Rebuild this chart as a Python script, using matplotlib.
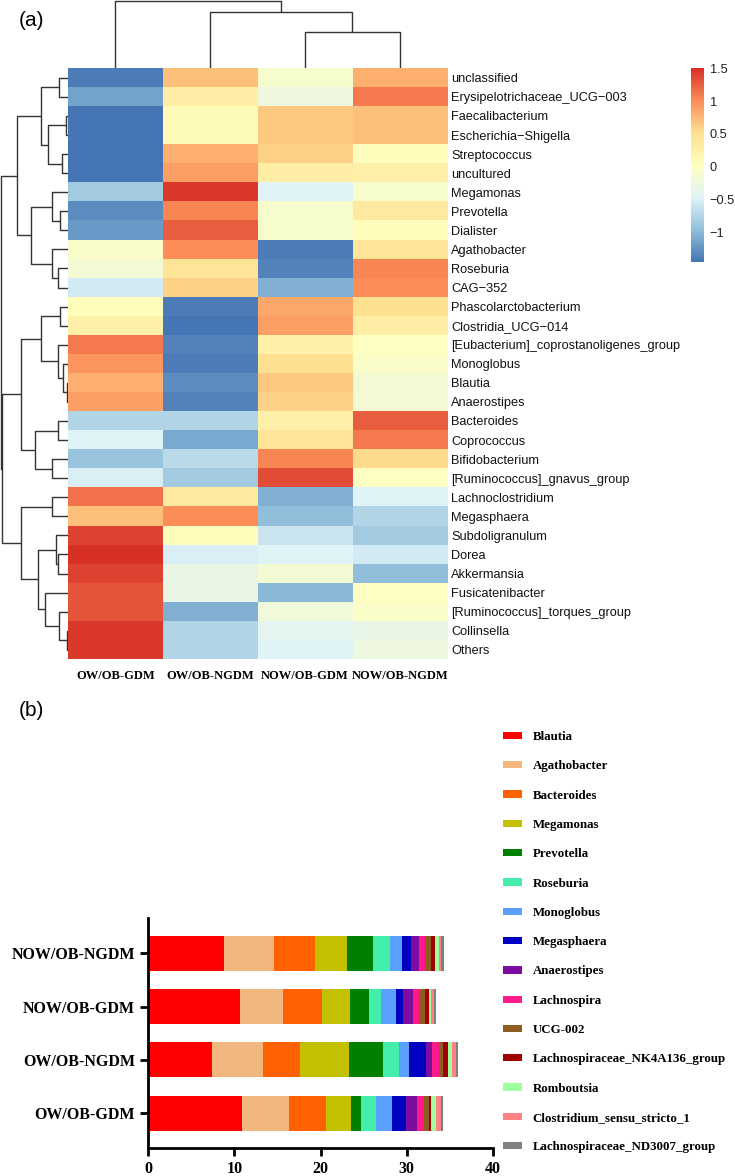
import numpy as np
import matplotlib
matplotlib.use('Agg')
import matplotlib.pyplot as plt
from matplotlib.colors import LinearSegmentedColormap
from matplotlib.patches import Patch

# ---------------- data: heatmap (row z-scores) ----------------
groups = ["OW/OB-GDM", "OW/OB-NGDM", "NOW/OB-GDM", "NOW/OB-NGDM"]

heat_rows = ["unclassified", "Erysipelotrichaceae_UCG\u2212003", "Faecalibacterium",
             "Escherichia\u2212Shigella", "Streptococcus", "uncultured", "Megamonas",
             "Prevotella", "Dialister", "Agathobacter", "Roseburia", "CAG\u2212352",
             "Phascolarctobacterium", "Clostridia_UCG\u2212014",
             "[Eubacterium]_coprostanoligenes_group", "Monoglobus", "Blautia",
             "Anaerostipes", "Bacteroides", "Coprococcus", "Bifidobacterium",
             "[Ruminococcus]_gnavus_group", "Lachnoclostridium", "Megasphaera",
             "Subdoligranulum", "Dorea", "Akkermansia", "Fusicatenibacter",
             "[Ruminococcus]_torques_group", "Collinsella", "Others"]

heat_vals = np.array([
    [-1.40, 0.70, -0.10, 0.80],
    [-1.15, 0.30, -0.25, 1.10],
    [-1.45, 0.10, 0.65, 0.70],
    [-1.45, 0.10, 0.65, 0.70],
    [-1.45, 0.80, 0.60, 0.05],
    [-1.45, 0.90, 0.30, 0.25],
    [-0.85, 1.45, -0.45, -0.10],
    [-1.30, 1.05, -0.10, 0.35],
    [-1.20, 1.25, -0.10, 0.05],
    [-0.05, 1.00, -1.40, 0.45],
    [-0.15, 0.45, -1.35, 1.05],
    [-0.55, 0.60, -1.05, 1.00],
    [0.05, -1.40, 0.85, 0.50],
    [0.25, -1.45, 0.90, 0.30],
    [1.10, -1.35, 0.25, 0.00],
    [0.95, -1.40, 0.50, -0.05],
    [0.80, -1.30, 0.65, -0.15],
    [0.90, -1.35, 0.60, -0.15],
    [-0.75, -0.75, 0.25, 1.25],
    [-0.45, -1.10, 0.45, 1.10],
    [-0.90, -0.70, 1.05, 0.55],
    [-0.50, -0.85, 1.35, 0.00],
    [1.15, 0.35, -1.05, -0.45],
    [0.70, 1.00, -0.95, -0.75],
    [1.40, 0.05, -0.60, -0.85],
    [1.50, -0.50, -0.45, -0.55],
    [1.40, -0.30, -0.15, -0.95],
    [1.30, -0.30, -1.00, 0.00],
    [1.30, -1.05, -0.20, -0.05],
    [1.45, -0.75, -0.40, -0.30],
    [1.45, -0.75, -0.45, -0.25],
])

# cluster trees: (left, right, merge height); ints are leaf indices
row_top = (((0, 1, 9), ((2, 3, 2), (4, 5, 6.3), 19.7), 26.7),
           ((6, (7, 8, 8), 16.3), (9, (10, 11, 10.3), 16.3), 37.3), 51.3)
row_mid = (((12, 13, 8), (14, (15, (16, 17, 1.3), 4.7), 10.3), 27.3),
           ((18, 19, 10.3), (20, 21, 16.3), 33), 47)
row_low = ((22, 23, 16.3),
           ((24, (25, 26, 9.7), 12.3), (27, (28, (29, 30, 1.3), 9), 23), 29.7), 47.3)
row_tree = (row_top, (row_mid, row_low, 66.3), 67.3)
col_tree = (0, (1, (2, 3, 36), 56.3), 67)

# ---------------- data: stacked bars ----------------
bar_groups = ["OW/OB-GDM", "OW/OB-NGDM", "NOW/OB-GDM", "NOW/OB-NGDM"]
bar_genera = ["Blautia", "Agathobacter", "Bacteroides", "Megamonas", "Prevotella",
              "Roseburia", "Monoglobus", "Megasphaera", "Anaerostipes", "Lachnospira",
              "UCG-002", "Lachnospiraceae_NK4A136_group", "Romboutsia",
              "Clostridium_sensu_stricto_1", "Lachnospiraceae_ND3007_group"]
blautia = [10.88, 7.36, 10.65, 8.83]
agathobacter = [5.50, 5.96, 4.99, 5.73]
bacteroides = [4.29, 4.30, 4.53, 4.80]
megamonas = [2.91, 5.69, 3.29, 3.72]
prevotella = [1.16, 3.95, 2.21, 2.98]
roseburia = [1.74, 1.86, 1.36, 2.01]
monoglobus = [1.79, 1.16, 1.70, 1.43]
megasphaera = [1.67, 1.93, 0.89, 0.96]
anaerostipes = [1.28, 0.75, 1.16, 0.98]
lachnospira = [0.77, 0.81, 0.62, 0.73]
ucg002 = [0.58, 0.46, 0.70, 0.68]
nk4a136 = [0.26, 0.54, 0.47, 0.48]
romboutsia = [0.55, 0.46, 0.26, 0.40]
clostridium = [0.62, 0.47, 0.32, 0.30]
nd3007 = [0.23, 0.27, 0.23, 0.35]
bar_values = [blautia, agathobacter, bacteroides, megamonas, prevotella, roseburia,
              monoglobus, megasphaera, anaerostipes, lachnospira, ucg002, nk4a136,
              romboutsia, clostridium, nd3007]
bar_colors = ["#FF0000", "#F2B77E", "#FF6000", "#C2C000", "#008000", "#44EEAA",
              "#5AA0FF", "#0000C0", "#7E0C9E", "#FF1A8C", "#8E5B20", "#A00000",
              "#A0FFA0", "#FF8080", "#808080"]

# ---------------- figure ----------------
W, H = 735, 1176
fig = plt.figure(figsize=(W / 100, H / 100), dpi=100)

def box(x0, y0, x1, y1):
    # pixel box (top-left origin) -> figure fraction rect
    return [x0 / W, 1 - y1 / H, (x1 - x0) / W, (y1 - y0) / H]

serif = 'Liberation Serif'
sans = 'Liberation Sans'

cmap = LinearSegmentedColormap.from_list(
    'rdylbu7', ["#4575B4", "#91BFDB", "#E0F3F8", "#FFFFBF", "#FEE090", "#FC8D59", "#D73027"])
vmin, vmax = heat_vals.min(), heat_vals.max()

hm_top, hm_bot, hm_left, hm_right = 68.3, 659.3, 68, 447

ax_hm = fig.add_axes(box(hm_left, hm_top, hm_right, hm_bot))
im = ax_hm.imshow(heat_vals, cmap=cmap, vmin=vmin, vmax=vmax, aspect='auto',
                  interpolation='nearest')
ax_hm.yaxis.tick_right()
ax_hm.set_yticks(range(len(heat_rows)))
ax_hm.set_yticklabels(heat_rows, fontsize=9.2, family=sans, color='#111111')
ax_hm.set_xticks(range(len(groups)))
ax_hm.set_xticklabels(groups, fontsize=9, family=serif, fontweight='bold')
ax_hm.tick_params(axis='y', length=0, pad=3)
ax_hm.tick_params(axis='x', length=0, pad=8)
for s in ax_hm.spines.values():
    s.set_visible(False)

def draw_tree(ax, node, rows):
    if isinstance(node, int):
        return node, 0.0
    a, b, h = node
    pa, ha = draw_tree(ax, a, rows)
    pb, hb = draw_tree(ax, b, rows)
    hs = [ha, h, h, hb]
    ps = [pa, pa, pb, pb]
    if rows:
        ax.plot(hs, ps, color='#333333', lw=1.0, solid_capstyle='butt')
    else:
        ax.plot(ps, hs, color='#333333', lw=1.0, solid_capstyle='butt')
    return (pa + pb) / 2, h

ax_rd = fig.add_axes(box(0, hm_top, hm_left, hm_bot))
draw_tree(ax_rd, row_tree, True)
ax_rd.set_xlim(68, 0)
ax_rd.set_ylim(len(heat_rows) - 0.5, -0.5)
ax_rd.axis('off')

ax_cd = fig.add_axes(box(hm_left, 0, hm_right, hm_top))
draw_tree(ax_cd, col_tree, False)
ax_cd.set_xlim(-0.5, len(groups) - 0.5)
ax_cd.set_ylim(0, 68.3)
ax_cd.axis('off')

ax_cb = fig.add_axes(box(691, hm_top, 704, 262))
cb = fig.colorbar(im, cax=ax_cb)
cb.outline.set_visible(False)
cb.set_ticks([-1, -0.5, 0, 0.5, 1, 1.5])
cb.set_ticklabels(["\u22121", "\u22120.5", "0", "0.5", "1", "1.5"])
ax_cb.tick_params(length=0, pad=4, labelsize=9.2, labelcolor='#222222')
for t in ax_cb.get_yticklabels():
    t.set_family(sans)

fig.text(19 / W, 1 - 20 / H, "(a)", fontsize=15, family=sans, va='center', ha='left')
fig.text(19 / W, 1 - 711 / H, "(b)", fontsize=15, family=sans, va='center', ha='left')

# ---------------- stacked bar chart ----------------
ax_b = fig.add_axes(box(148.3, 917.7, 492.7, 1147.7))
ypos = np.arange(len(bar_groups))
left = np.zeros(len(bar_groups))
handles = []
for name, vals, col in zip(bar_genera, bar_values, bar_colors):
    ax_b.barh(ypos, vals, left=left, height=0.66, color=col, edgecolor='none')
    left = left + np.array(vals)
    handles.append(Patch(facecolor=col, edgecolor='none', label=name))
ax_b.set_xlim(0, 40)
ax_b.set_ylim(-0.65, 3.67)
ax_b.set_xticks([0, 10, 20, 30, 40])
ax_b.set_yticks(ypos)
ax_b.set_yticklabels(bar_groups)
for s in ['top', 'right']:
    ax_b.spines[s].set_visible(False)
for s in ['left', 'bottom']:
    ax_b.spines[s].set_linewidth(2)
ax_b.tick_params(width=2, length=6, labelsize=11.5)
for t in ax_b.get_xticklabels() + ax_b.get_yticklabels():
    t.set_family(serif)
    t.set_fontweight('bold')

fig.legend(handles=handles, loc='upper left', bbox_to_anchor=(503 / W, 1 - 731 / H),
           frameon=False, borderpad=0, borderaxespad=0, handlelength=1.45,
           handleheight=0.5, handletextpad=0.85, labelspacing=1.34,
           prop={'family': serif, 'weight': 'bold', 'size': 9.3})

fig.savefig('out.png', dpi=100)
